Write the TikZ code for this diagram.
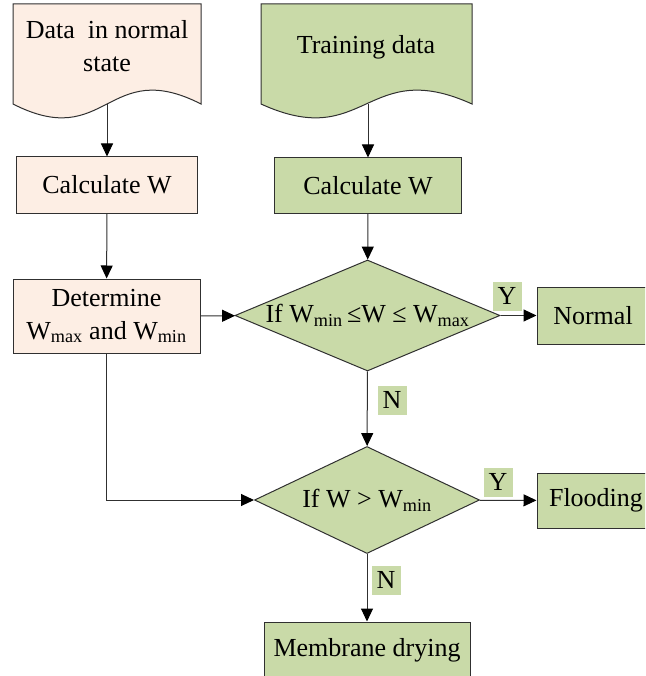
\documentclass[tikz,border=0pt]{standalone}
\usepackage{fontspec}
\setmainfont{Liberation Serif}
\usetikzlibrary{arrows.meta,shapes.geometric}
\definecolor{beige}{HTML}{FDEEE4}
\definecolor{olive}{HTML}{C9DAA8}
\definecolor{edge}{HTML}{303030}

\begin{document}
\begin{tikzpicture}[x=1pt,y=-1pt,
	every node/.style={font=\fontsize{26}{33}\selectfont, align=center, inner sep=0pt},
	box/.style={draw=edge, line width=1pt, rectangle},
	cond/.style={draw=edge, line width=1pt, diamond},
	yn/.style={fill=olive, minimum width=29pt, minimum height=29pt},
	line/.style={draw=edge, line width=1pt},
	arr/.style={line, -{Triangle[length=13pt,width=12pt,black]}}]
	\useasboundingbox (0,0) rectangle (645,676);
	\clip (0,0) rectangle (645,676);
	% input documents
	\filldraw [fill=beige, draw=edge, line width=1pt] (13,4) -- (201,4) -- (201,104) .. controls (107,56) and (107,152) .. (13,104) -- cycle;
	\node (normdata) at (107,46) {Data\ \ in normal\\state};
	\coordinate (normdatab) at (107,104);
	\filldraw [fill=olive, draw=edge, line width=1pt] (261,4) -- (472,4) -- (472,104) .. controls (366,56) and (366,152) .. (261,104) -- cycle;
	\node (traindata) at (366,47) {Training data};
	\coordinate (traindatab) at (368,104);
	% boxes
	\node [box, fill=beige, minimum width=181pt, minimum height=56pt] (calcl) at (107,185) {Calculate W};
	\node [box, fill=olive, minimum width=187pt, minimum height=55pt] (calcr) at (368,185.5) {Calculate W};
	\node [box, fill=beige, minimum width=187pt, minimum height=74pt] (limits) at (106.5,316) {Determine\\W\textsubscript{max} and W\textsubscript{min}};
	\node [box, fill=olive, minimum width=112pt, minimum height=57pt] (normal) at (593,315.5) {Normal};
	\node [box, fill=olive, minimum width=118pt, minimum height=55pt] (flood) at (596,500.5) {Flooding};
	\node [box, fill=olive, minimum width=206pt, minimum height=56pt] (dry) at (367,650) {Membrane drying};
	% decisions
	\node [cond, fill=olive, minimum width=265pt, minimum height=111pt] (test1) at (367.5,315.5) {};
	\node at (test1) {If W\textsubscript{min}\,≤W ≤ W\textsubscript{max}};
	\node [cond, fill=olive, minimum width=225pt, minimum height=107pt] (test2) at (367,500) {};
	\node at (test2) {If W > W\textsubscript{min}};
	% connectors
	\draw [arr] (normdatab) -- (calcl);
	\draw [arr] (traindatab) -- (calcr);
	\draw [arr] (calcl) -- (limits);
	\draw [arr] (calcr) -- (test1);
	\draw [arr] (limits) -- (test1);
	\draw [arr] (test1) -- (normal);
	\draw [arr] (test1) -- (test2);
	\draw [arr] (limits.south) |- (test2.west);
	\draw [arr] (test2) -- (flood);
	\draw [arr] (test2) -- (dry);
	% labels
	\node [yn] (y1) at (507,296) {Y};
	\node [yn] (n1) at (392,400) {N};
	\node [yn] (y2) at (498,482) {Y};
	\node [yn] (n2) at (386,580) {N};
\end{tikzpicture}
\end{document}
